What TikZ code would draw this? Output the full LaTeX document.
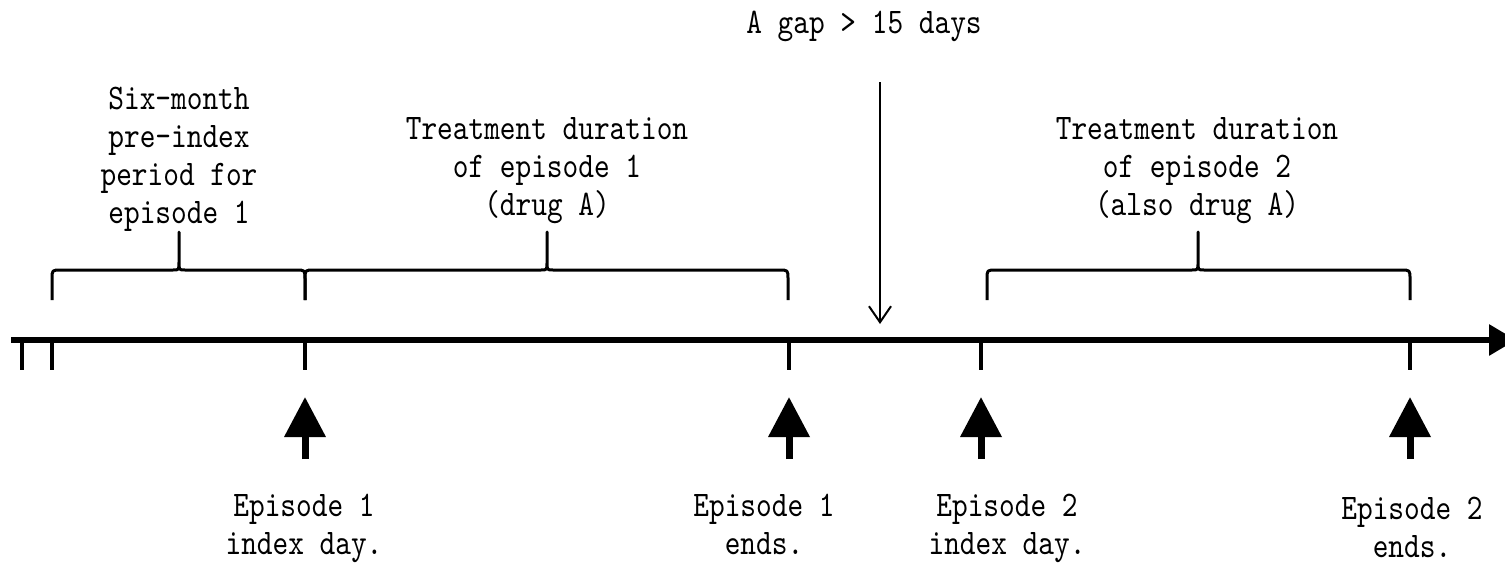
\documentclass[tikz,border=0pt]{standalone}
\usepackage{fontspec}
\newfontfamily\lblfont{lmmono10-regular.otf}[FakeStretch=0.83]
\usetikzlibrary{arrows.meta}
\tikzset{
  lbl/.style={font=\lblfont\fontsize{36}{38}\selectfont, align=center, inner sep=0pt, anchor=base},
  axisline/.style={line width=6pt, -{Triangle[length=27pt,width=30pt]}},
  tickline/.style={line width=4pt},
  bigup/.style={line width=7pt, -{Triangle[length=40pt,width=40pt]}},
  bracestyle/.style={line width=3pt, line join=round},
  gapline/.style={line width=2pt, -{Straight Barb[length=16pt,width=22pt]}}
}
\newcommand{\mybrace}[3]{%
  \draw[bracestyle] (#1,300) -- (#1,279) .. controls (#1,270) .. (#1+9,270)
    -- (#3-6,270) .. controls (#3,270) .. (#3,262) -- (#3,232)
    -- (#3,262) .. controls (#3,270) .. (#3+6,270)
    -- (#2-9,270) .. controls (#2,270) .. (#2,279) -- (#2,300);}
\begin{document}
\begin{tikzpicture}[x=1pt,y=-1pt]
\useasboundingbox (0,0) rectangle (1505,565);
% axis
\coordinate (axL) at (11,340);
\coordinate (axR) at (1516,340);
\draw[axisline] (axL) -- (axR);
% ticks
\foreach \x/\n in {22/t0,52/t1,305/t2,789/t3,981/t4,1410/t5}{
  \coordinate (\n) at (\x,340);
  \coordinate (\n e) at (\x,370);
  \draw[tickline] (\n) -- (\n e);
}
% big up arrows
\foreach \x/\n in {305/a1,789/a2,981/a3,1410/a4}{
  \coordinate (\n b) at (\x,459);
  \coordinate (\n t) at (\x,397);
  \draw[bigup] (\n b) -- (\n t);
}
% braces
\mybrace{52}{305}{179}
\mybrace{305}{788}{547}
\mybrace{987}{1410}{1198}
% gap arrow
\coordinate (gTop) at (880,82);
\coordinate (gBot) at (880,324);
\draw[gapline] (gTop) -- (gBot);
% labels (base = baseline of last line)
\node[lbl] (gaplbl) at (864,33) {A gap > 15 days};
\node[lbl] (pre) at (179,223) {Six-month\\pre-index\\period for\\episode 1};
\node[lbl] (tr1) at (547,215) {Treatment duration\\of episode 1\\(drug A)};
\node[lbl] (tr2) at (1197,215) {Treatment duration\\of episode 2\\(also drug A)};
\node[lbl] (l1) at (304,554) {Episode 1\\index day.};
\node[lbl] (l2) at (764,554) {Episode 1\\ends.};
\node[lbl] (l3) at (1007,554) {Episode 2\\index day.};
\node[lbl] (l4) at (1412,557) {Episode 2\\ends.};
\end{tikzpicture}
\end{document}
